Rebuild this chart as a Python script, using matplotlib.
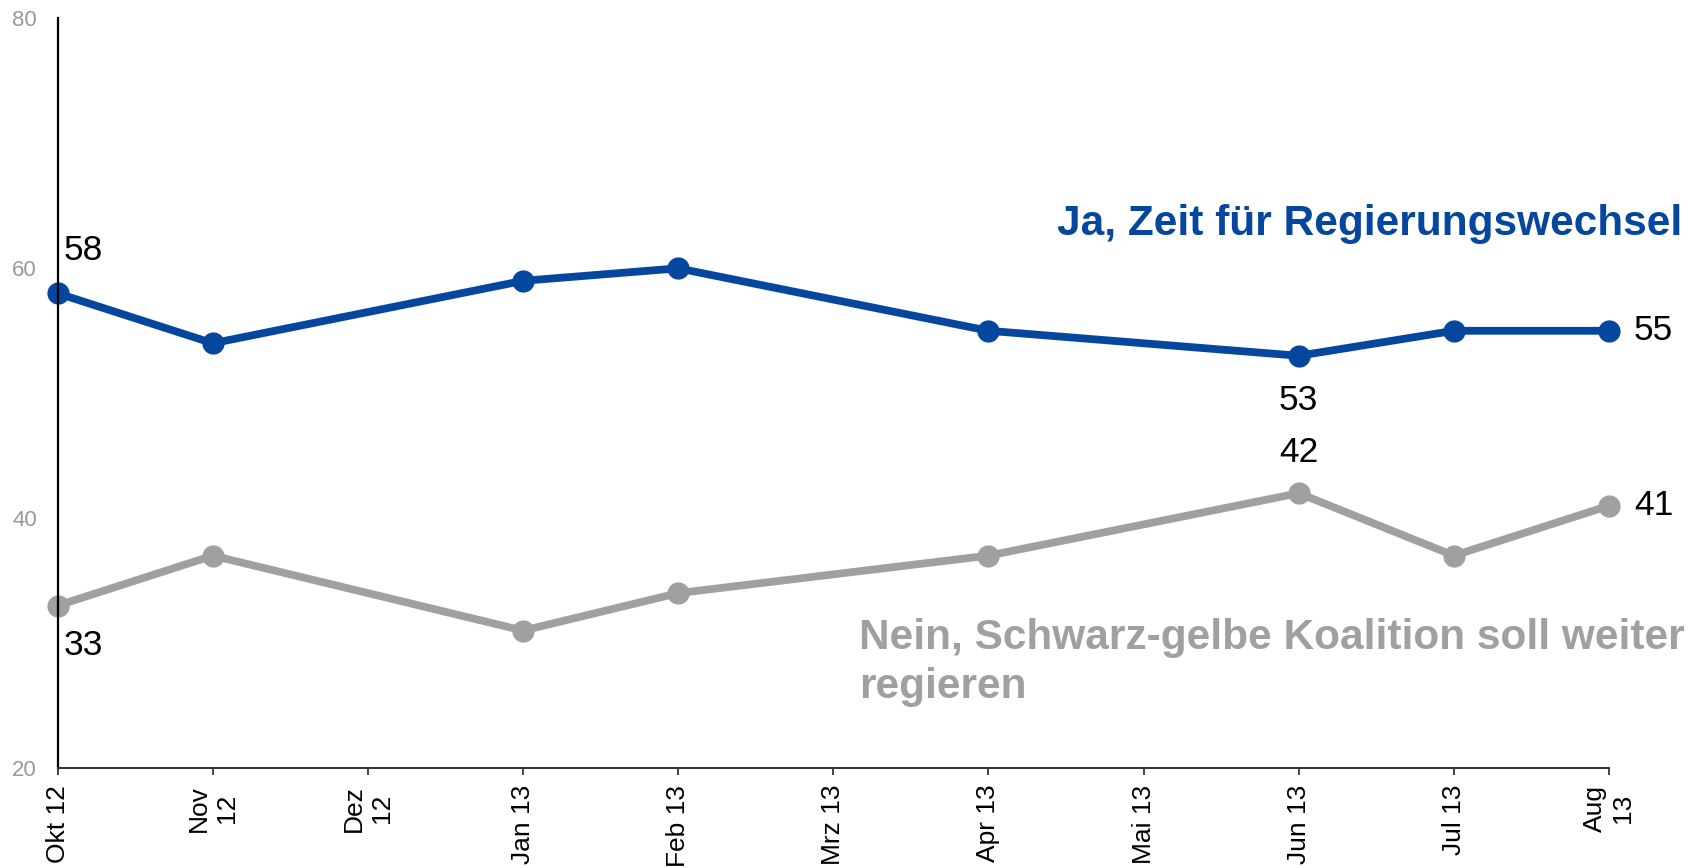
import numpy as np
import matplotlib
matplotlib.use("Agg")
import matplotlib.pyplot as plt

plt.rcParams['font.family'] = ['Liberation Sans', 'DejaVu Sans']

months = ["Okt 12", "Nov\n12", "Dez\n12", "Jan 13", "Feb 13", "Mrz 13",
          "Apr 13", "Mai 13", "Jun 13", "Jul 13", "Aug\n13"]
ja = [58, 54, np.nan, 59, 60, np.nan, 55, np.nan, 53, 55, 55]
nein = [33, 37, np.nan, 31, 34, np.nan, 37, np.nan, 42, 37, 41]

ja_label = "Ja, Zeit für Regierungswechsel"
nein_label = "Nein, Schwarz-gelbe Koalition soll weiter\nregieren"

BLUE = "#05469E"
GREY = "#A0A0A0"

fig = plt.figure(figsize=(17.05, 8.68), dpi=100)
ax = fig.add_axes([0.0338, 0.1152, 0.9099, 0.8635])

x = np.arange(len(months))
for vals, col in [(nein, GREY), (ja, BLUE)]:
    v = np.array(vals, dtype=float)
    m = ~np.isnan(v)
    ax.plot(x[m], v[m], color=col, lw=5.6, marker="o", ms=15,
            solid_joinstyle="round", clip_on=False)

ax.set_xlim(0, len(months) - 1)
ax.set_ylim(20, 80)
ax.set_yticks([20, 40, 60, 80])
ax.set_xticks(x)
ax.set_xticklabels(months, rotation=90, fontsize=19, ha="center", va="top")
ax.tick_params(axis="x", direction="out", length=5, width=1.2, pad=7, colors="#222222")
ax.tick_params(axis="x", labelcolor="black")
ax.tick_params(axis="y", length=0, pad=15, labelsize=16, labelcolor="#999999")

for s in ["top", "right"]:
    ax.spines[s].set_visible(False)
ax.spines["left"].set_linewidth(1.6)
ax.spines["left"].set_color("black")
ax.spines["bottom"].set_linewidth(1.4)
ax.spines["bottom"].set_color("#333333")

# value labels (offsets in pixels)
def lab(i, vals, dx, dy, ha, va):
    ax.annotate(f"{vals[i]:.0f}", (x[i], vals[i]), xytext=(dx, dy),
                textcoords="offset pixels", ha=ha, va=va, fontsize=25.5,
                color="black")

lab(0, ja, 6, 33, "left", "baseline")
lab(0, nein, 6, -23, "left", "top")
lab(8, ja, 0, -28, "center", "top")
lab(8, nein, 0, 31, "center", "baseline")
lab(10, ja, 25, 0, "left", "center")
lab(10, nein, 25, 0, "left", "center")

ax.text(6.444, 62.7, ja_label, color=BLUE, fontsize=30.5, fontweight="bold",
        ha="left", va="baseline", clip_on=False)
ax.text(5.167, 32.0, nein_label, color=GREY, fontsize=30.5, fontweight="bold",
        ha="left", va="top", linespacing=1.28, clip_on=False)

fig.savefig("out.png", dpi=100)
